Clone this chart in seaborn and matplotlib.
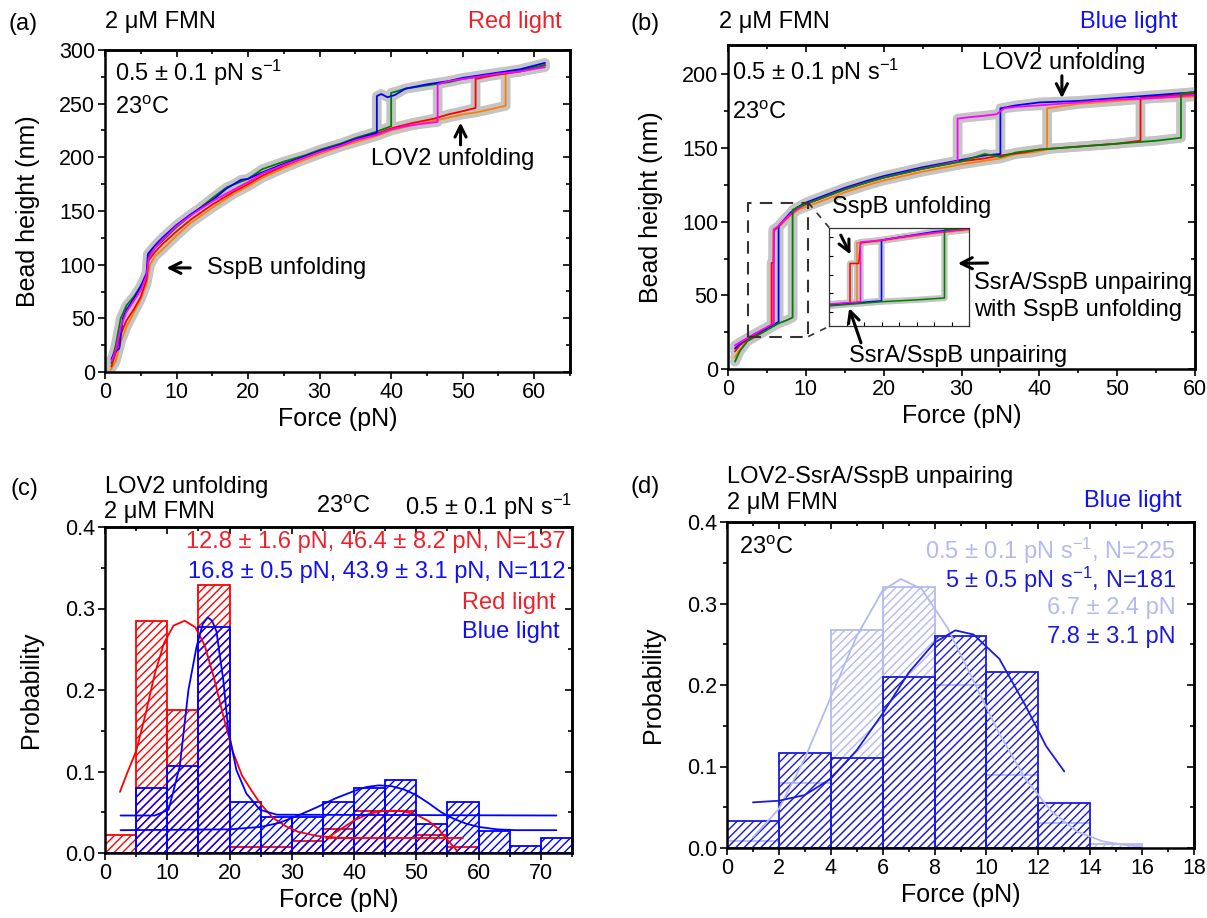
import matplotlib
matplotlib.use("Agg")
import matplotlib.pyplot as plt
from matplotlib.ticker import MultipleLocator, FormatStrFormatter
import seaborn as sns

# ---------------- data ----------------
# (a) force-extension traces, red light
a_orange_f = [0.8, 1.5, 2.2, 3.0, 4.0, 5.0, 5.8, 6.3, 7.0, 8.0, 10, 12, 15, 18, 20, 22, 25, 28, 30, 33,
              35, 38, 40, 43, 46, 48, 50, 52, 54, 56, 56, 58, 60, 61.5]
a_orange_h = [2, 10, 28, 42, 55, 68, 82, 100, 108, 114, 127, 139, 153, 166, 173, 181, 190, 198, 203, 210,
              214, 220, 225, 230, 234, 237, 240, 242, 245, 248, 278, 280, 283, 285]
a_red_f = [0.9, 1.5, 2.2, 3.0, 4.0, 5.0, 5.8, 6.1, 7.0, 8.0, 10, 12, 15, 18, 20, 22, 25, 28, 30, 33,
           35, 38, 40, 43, 46, 48, 50, 51.8, 51.8, 54, 56, 58, 60, 61.5]
a_red_h = [5, 18, 35, 48, 58, 70, 86, 104, 112, 119, 131, 142, 156, 168, 175, 183, 192, 200, 205, 211,
           216, 222, 227, 232, 236, 240, 243, 246, 273, 276, 278, 280, 283, 286]
a_green_f = [0.9, 1.5, 2.2, 3.0, 4.0, 5.0, 5.8, 6.1, 7.0, 8.0, 10, 12, 15, 17, 20, 22, 25, 28, 30, 33,
             35, 38, 40, 40, 42, 45, 48, 50, 55, 58, 61.5]
a_green_h = [8, 25, 50, 62, 70, 80, 90, 108, 116, 122, 135, 146, 162, 172, 180, 189, 196, 202, 207, 213,
             218, 224, 229, 260, 264, 267, 270, 273, 278, 281, 286]
a_blue_f = [0.9, 1.3, 2.0, 2.5, 3.0, 4.0, 5.0, 5.8, 6.0, 7.0, 8.0, 10, 12, 15, 17, 19, 20, 22, 25, 28,
            30, 33, 35, 38, 38, 38.6, 39.5, 40.5, 42, 45, 48, 50, 55, 58, 61.5]
a_blue_h = [12, 18, 22, 50, 58, 68, 80, 92, 110, 118, 125, 137, 147, 160, 171, 179, 180, 186, 194, 201,
            206, 212, 217, 223, 257, 259, 256, 258, 264, 268, 271, 274, 279, 282, 288]
a_magenta_f = [0.9, 1.5, 2.2, 3.0, 4.0, 5.0, 5.8, 6.1, 7.0, 8.0, 10, 12, 15, 18, 20, 22, 25, 28, 30, 33,
               35, 38, 40, 42, 44, 46.5, 46.5, 48, 50, 52, 55, 58, 61.5]
a_magenta_h = [10, 20, 42, 56, 66, 76, 90, 106, 116, 123, 136, 146, 159, 170, 177, 185, 193, 200, 205, 211,
               216, 221, 226, 229, 231, 233, 268, 271, 273, 275, 278, 280, 284]

# (b) force-extension traces, blue light
b_orange_f = [0.9, 1.5, 2.5, 3.5, 4.5, 5.8, 5.8, 6.5, 7, 8, 9, 10, 12, 15, 18, 20, 25, 30, 35, 37,
              39, 41, 41, 45, 50, 55, 60]
b_orange_h = [8, 13, 19, 22, 25, 30, 94, 96, 99, 104, 108, 110, 114, 120, 125, 128, 134, 139, 143, 146,
              147, 149, 177, 180, 182, 184, 185]
b_red_f = [0.9, 1.5, 2.5, 3.5, 4.5, 5.6, 5.6, 5.85, 5.9, 6.5, 7, 8, 9, 10, 12, 15, 18, 20, 25, 30,
           33, 35, 38, 40, 45, 50, 53, 53, 55, 58, 60]
b_red_h = [12, 16, 20, 23, 26, 30, 72, 72, 94, 97, 100, 105, 109, 112, 116, 122, 127, 130, 136, 141,
           143, 145, 147, 149, 151, 153, 155, 184, 185, 186, 187]
b_blue_f = [0.9, 1.5, 2.5, 3.5, 4.5, 5.5, 6.5, 6.5, 7, 8, 9, 10, 12, 15, 18, 20, 25, 30, 33, 35,
            35, 37, 40, 45, 50, 55, 60]
b_blue_h = [14, 17, 21, 24, 26, 29, 32, 97, 100, 106, 110, 113, 117, 123, 128, 131, 137, 142, 145, 146,
            177, 179, 181, 182, 184, 186, 188]
b_magenta_f = [0.9, 1.5, 2.5, 3.5, 4.5, 5.9, 5.9, 6.5, 7, 8, 9, 10, 12, 15, 18, 20, 25, 29.5, 29.5, 31,
               33, 34.5, 35.5, 37, 40, 45, 50, 55, 60]
b_magenta_h = [16, 18, 21, 24, 27, 31, 95, 97, 100, 105, 109, 112, 116, 122, 127, 130, 136, 141, 170, 171,
               172, 173, 177, 178, 179, 181, 183, 184, 186]
b_green_f = [0.9, 1.5, 2.5, 3.5, 4.5, 5.5, 6.5, 7.5, 8.3, 8.3, 9, 10, 12, 15, 18, 20, 25, 30, 33, 35,
             37, 40, 45, 50, 55, 58.2, 58.2, 60]
b_green_h = [5, 12, 19, 22, 25, 28, 31, 33, 35, 108, 110, 112, 116, 122, 127, 130, 136, 141, 146, 144,
             147, 149, 151, 153, 155, 157, 187, 188]

# (c) LOV2 unfolding force histograms (bin width 5 pN)
c_edges = [0, 5, 10, 15, 20, 25, 30, 35, 40, 45, 50, 55, 60, 65, 70, 75]
c_red_prob = [0.022, 0.285, 0.175, 0.329, 0.0073, 0.0073, 0.0146, 0.029, 0.051, 0.051, 0.022, 0.0073,
              0, 0, 0]
c_blue_prob = [0, 0.080, 0.107, 0.277, 0.0625, 0.0446, 0.0446, 0.0625, 0.080, 0.089, 0.036, 0.0625,
               0.027, 0.009, 0.018]
c_red_fit1_f = [2.4, 3.5, 5, 6.5, 8, 9.5, 11, 12.8, 14.5, 16, 17.5, 19, 20.5, 22, 23.5, 25, 27, 29, 31, 34, 37, 40]
c_red_fit1_p = [0.075, 0.097, 0.125, 0.17, 0.22, 0.258, 0.279, 0.285, 0.277, 0.255, 0.215, 0.168, 0.125,
                0.095, 0.077, 0.06, 0.043, 0.033, 0.026, 0.021, 0.019, 0.018]
c_red_fit2_f = [36, 38, 40, 42, 44, 46.4, 48, 50, 52, 53.5, 55, 56.5]
c_red_fit2_p = [0.02, 0.03, 0.04, 0.047, 0.051, 0.052, 0.051, 0.047, 0.039, 0.03, 0.016, 0.003]
c_red_base_f = [35.5, 57.5]
c_red_base_p = [0.018, 0.018]
c_blue_fit1_f = [2.5, 8, 10.2, 12, 13.4, 14.7, 15.7, 16.5, 17.2, 17.9, 19, 19.8, 21.1, 22.7, 24.9, 27.6, 72.5]
c_blue_fit1_p = [0.046, 0.046, 0.053, 0.106, 0.2, 0.253, 0.281, 0.289, 0.285, 0.272, 0.212, 0.151, 0.102,
                 0.073, 0.053, 0.047, 0.046]
c_blue_fit2_f = [2.5, 20, 25, 28, 31, 34, 37, 40, 42, 44, 46, 48, 50, 52, 54, 56, 58, 60, 63, 66, 72.5]
c_blue_fit2_p = [0.028, 0.029, 0.032, 0.037, 0.046, 0.056, 0.067, 0.076, 0.081, 0.083, 0.082, 0.078, 0.071,
                 0.061, 0.05, 0.042, 0.036, 0.032, 0.029, 0.028, 0.028]

# (d) SsrA/SspB unpairing force histograms (bin width 2 pN)
d_edges = [0, 2, 4, 6, 8, 10, 12, 14, 16]
d_slow_prob = [0.009, 0.08, 0.267, 0.32, 0.2, 0.089, 0.031, 0.0044]
d_fast_prob = [0.0331, 0.116, 0.1105, 0.21, 0.2597, 0.2155, 0.0552, 0]
d_slow_fit_f = [1.0, 2, 3, 4, 5, 6, 6.7, 7.5, 8.5, 9.5, 10.5, 11.5, 12.5, 13.5, 14.5, 15.5, 16]
d_slow_fit_p = [0.013, 0.048, 0.11, 0.185, 0.26, 0.316, 0.33, 0.318, 0.27, 0.205, 0.14, 0.085, 0.045,
                0.02, 0.008, 0.003, 0.002]
d_fast_fit_f = [1, 2, 3, 4, 5, 6, 7, 8, 8.8, 9.5, 10.5, 11.5, 12.3, 13]
d_fast_fit_p = [0.056, 0.058, 0.065, 0.085, 0.12, 0.165, 0.215, 0.252, 0.267, 0.262, 0.232, 0.175, 0.125, 0.094]

# ---------------- style ----------------
sns.set_theme(style="ticks")
plt.rcParams["font.family"] = ["Liberation Sans", "DejaVu Sans"]
plt.rcParams["mathtext.fontset"] = "custom"
plt.rcParams["mathtext.rm"] = "Liberation Sans"
plt.rcParams["mathtext.it"] = "Liberation Sans:italic"
plt.rcParams["hatch.linewidth"] = 1.0
for key in ("text.color", "axes.labelcolor", "xtick.color", "ytick.color", "axes.edgecolor"):
    plt.rcParams[key] = "black"

GRAY = "#C4C4C4"
C_ORANGE, C_RED, C_GREEN, C_BLUE, C_MAG = "#FF8000", "#FF0000", "#008000", "#0000FF", "#FF00FF"
TXT_RED, TXT_BLUE = "#F0202A", "#1010F0"
D_DARK, D_LIGHT = "#1A1AE0", "#B3BAF0"
FS = 17
W, H = 1207, 918

fig = plt.figure(figsize=(W / 100, H / 100), dpi=100)


def rect(l, t, r, b):
    return [l / W, 1 - b / H, (r - l) / W, (b - t) / H]


def ftext(x, y, s, **kw):
    kw.setdefault("fontsize", FS)
    kw.setdefault("va", "center")
    fig.text(x / W, 1 - y / H, s, **kw)


def finish(ax, xmaj, ymaj, yfmt=None):
    for a, loc in ((ax.xaxis, xmaj), (ax.yaxis, ymaj)):
        a.set_major_locator(MultipleLocator(loc))
        a.set_minor_locator(MultipleLocator(loc / 2))
    if yfmt:
        ax.yaxis.set_major_formatter(FormatStrFormatter(yfmt))
    ax.tick_params(which="both", direction="out", width=1.2, labelsize=15.5, pad=2, colors="black")
    ax.tick_params(which="major", length=5)
    ax.tick_params(which="minor", length=3)
    for s in ax.spines.values():
        s.set_visible(True)
        s.set_linewidth(1.8)
        s.set_color("black")
    sx = ax.secondary_xaxis("top")
    sy = ax.secondary_yaxis("right")
    for sec, axis, loc in ((sx, sx.xaxis, xmaj), (sy, sy.yaxis, ymaj)):
        axis.set_major_locator(MultipleLocator(loc))
        axis.set_minor_locator(MultipleLocator(loc / 2))
        sec.tick_params(which="both", direction="in", width=1.2, labeltop=False, labelright=False)
        sec.tick_params(which="major", length=5)
        sec.tick_params(which="minor", length=3)
        for s in sec.spines.values():
            s.set_linewidth(1.8)
    ax.set_xlabel("Force (pN)", fontsize=18, labelpad=3)


def traces(ax, data, band=7, lw=1.3):
    for f, h, c in data:
        sns.lineplot(x=f, y=h, ax=ax, color=GRAY, lw=band, sort=False, estimator=None, legend=False)
    for f, h, c in data:
        sns.lineplot(x=f, y=h, ax=ax, color=c, lw=lw, sort=False, estimator=None, legend=False)


arrow = dict(arrowstyle="->", color="black", lw=2.2, mutation_scale=20)
rate = r"0.5 ± 0.1 pN s$^{\mathregular{-1}}$"
temp = r"23$^{\mathregular{o}}$C"

# ---------------- (a) ----------------
ax_a = fig.add_axes(rect(105, 50, 570, 372))
traces(ax_a, [(a_orange_f, a_orange_h, C_ORANGE), (a_red_f, a_red_h, C_RED),
              (a_green_f, a_green_h, C_GREEN), (a_blue_f, a_blue_h, C_BLUE),
              (a_magenta_f, a_magenta_h, C_MAG)])
ax_a.set_xlim(0, 65)
ax_a.set_ylim(0, 300)
finish(ax_a, 10, 50)
ax_a.set_ylabel("Bead height (nm)", fontsize=18, labelpad=14)
ax_a.text(1.4, 279, rate, fontsize=FS, va="center")
ax_a.text(1.4, 246, temp, fontsize=FS, va="center")
ax_a.text(48.6, 198, "LOV2 unfolding", fontsize=FS, ha="center", va="center")
ax_a.annotate("", xy=(49.7, 235), xytext=(49.7, 209), arrowprops=arrow)
ax_a.text(14.3, 97, "SspB unfolding", fontsize=FS, va="center")
ax_a.annotate("", xy=(8.2, 97), xytext=(12.3, 97), arrowprops=arrow)

# ---------------- (b) ----------------
ax_b = fig.add_axes(rect(728, 45, 1195, 369))
b_data = [(b_orange_f, b_orange_h, C_ORANGE), (b_red_f, b_red_h, C_RED),
          (b_blue_f, b_blue_h, C_BLUE), (b_magenta_f, b_magenta_h, C_MAG),
          (b_green_f, b_green_h, C_GREEN)]
traces(ax_b, b_data)
ax_b.set_xlim(0, 60)
ax_b.set_ylim(0, 220)
finish(ax_b, 10, 50)
ax_b.set_ylabel("Bead height (nm)", fontsize=18, labelpad=14)
ax_b.text(0.5, 202, rate, fontsize=FS, va="center")
ax_b.text(0.5, 174, temp, fontsize=FS, va="center")
ax_b.text(43.1, 208, "LOV2 unfolding", fontsize=FS, ha="center", va="center")
ax_b.annotate("", xy=(42.9, 182), xytext=(42.9, 201), arrowprops=arrow)
ax_b.text(13.4, 110, "SspB unfolding", fontsize=FS, va="center")
ax_b.text(31.6, 58.5, "SsrA/SspB unpairing", fontsize=FS, va="center")
ax_b.text(31.6, 40, "with SspB unfolding", fontsize=FS, va="center")
ax_b.text(15.5, 8.5, "SsrA/SspB unpairing", fontsize=FS, va="center")
dash = dict(color="#333333", lw=1.5, ls=(0, (6, 4)))
ax_b.plot([2.6, 2.6, 10.3, 10.3, 2.6], [22, 113, 113, 22, 22], **dash)
ax_b.plot([10.3, 13.0], [113, 96], color="#333333", lw=1.2, ls=(0, (4, 4)))
ax_b.plot([10.3, 13.0], [22, 29], color="#333333", lw=1.2, ls=(0, (4, 4)))

ax_in = fig.add_axes(rect(829, 228, 969, 326))
traces(ax_in, b_data, band=4.5, lw=1.1)
ax_in.set_xlim(5, 9)
ax_in.set_ylim(5, 110)
ax_in.xaxis.set_major_locator(MultipleLocator(0.5))
ax_in.yaxis.set_major_locator(MultipleLocator(20))
ax_in.tick_params(direction="in", length=3, width=0.8, labelleft=False, labelbottom=False)
ax_in.set_xlabel("")
ax_in.set_ylabel("")
for s in ax_in.spines.values():
    s.set_visible(True)
    s.set_linewidth(0.9)
    s.set_color("#333333")
ax_in.annotate("", xy=(5.65, 79), xytext=(5.3, 105), arrowprops=arrow)
ax_in.annotate("", xy=(8.6, 72), xytext=(33.7, 72), textcoords=ax_b.transData,
               arrowprops=arrow, annotation_clip=False)
ax_in.annotate("", xy=(5.55, 27), xytext=(17.2, 16), textcoords=ax_b.transData,
               arrowprops=arrow, annotation_clip=False)

# ---------------- (c) ----------------
ax_c = fig.add_axes(rect(105, 527, 572, 853))
c_mid = [(lo + hi) / 2 for lo, hi in zip(c_edges[:-1], c_edges[1:])]
sns.histplot(x=c_mid, weights=c_red_prob, bins=c_edges, ax=ax_c, element="bars", fill=False,
             color=C_RED, hatch="////", linewidth=1.3)
sns.histplot(x=c_mid, weights=c_blue_prob, bins=c_edges, ax=ax_c, element="bars", fill=False,
             color=C_BLUE, hatch="////", linewidth=1.3)
for f, p, c in [(c_red_fit1_f, c_red_fit1_p, C_RED), (c_red_fit2_f, c_red_fit2_p, C_RED),
                (c_red_base_f, c_red_base_p, C_RED), (c_blue_fit1_f, c_blue_fit1_p, C_BLUE),
                (c_blue_fit2_f, c_blue_fit2_p, C_BLUE)]:
    sns.lineplot(x=f, y=p, ax=ax_c, color=c, lw=1.3, sort=False, estimator=None, legend=False)
ax_c.set_xlim(0, 75)
ax_c.set_ylim(0, 0.4)
finish(ax_c, 10, 0.1, "%.1f")
ax_c.set_ylabel("Probability", fontsize=18, labelpad=16)
ax_c.text(73.9, 0.381, "12.8 ± 1.6 pN, 46.4 ± 8.2 pN, N=137", color=TXT_RED, fontsize=FS, ha="right", va="center")
ax_c.text(73.9, 0.345, "16.8 ± 0.5 pN, 43.9 ± 3.1 pN, N=112", color=TXT_BLUE, fontsize=FS, ha="right", va="center")
ax_c.text(72.4, 0.307, "Red light", color=TXT_RED, fontsize=FS, ha="right", va="center")
ax_c.text(73.0, 0.271, "Blue light", color=TXT_BLUE, fontsize=FS, ha="right", va="center")

# ---------------- (d) ----------------
ax_d = fig.add_axes(rect(727, 522, 1194, 848))
d_mid = [(lo + hi) / 2 for lo, hi in zip(d_edges[:-1], d_edges[1:])]
sns.histplot(x=d_mid, weights=d_slow_prob, bins=d_edges, ax=ax_d, element="bars", fill=False,
             color=D_LIGHT, hatch="////", linewidth=1.3)
sns.histplot(x=d_mid, weights=d_fast_prob, bins=d_edges, ax=ax_d, element="bars", fill=False,
             color=D_DARK, hatch="////", linewidth=1.3)
sns.lineplot(x=d_slow_fit_f, y=d_slow_fit_p, ax=ax_d, color=D_LIGHT, lw=1.3, sort=False,
             estimator=None, legend=False)
sns.lineplot(x=d_fast_fit_f, y=d_fast_fit_p, ax=ax_d, color=D_DARK, lw=1.3, sort=False,
             estimator=None, legend=False)
ax_d.set_xlim(0, 18)
ax_d.set_ylim(0, 0.4)
finish(ax_d, 2, 0.1, "%.1f")
ax_d.set_ylabel("Probability", fontsize=18, labelpad=16)
ax_d.text(0.45, 0.368, temp, fontsize=FS, va="center")
ax_d.text(17.3, 0.364, r"0.5 ± 0.1 pN s$^{\mathregular{-1}}$, N=225", color=D_LIGHT, fontsize=FS,
          ha="right", va="center")
ax_d.text(17.3, 0.329, r"5 ± 0.5 pN s$^{\mathregular{-1}}$, N=181", color=D_DARK, fontsize=FS,
          ha="right", va="center")
ax_d.text(17.3, 0.294, "6.7 ± 2.4 pN", color=D_LIGHT, fontsize=FS, ha="right", va="center")
ax_d.text(17.3, 0.259, "7.8 ± 3.1 pN", color=D_DARK, fontsize=FS, ha="right", va="center")

# ---------------- titles outside axes ----------------
ftext(9, 24, "(a)")
ftext(105, 22, "2 μM FMN")
ftext(562, 22, "Red light", ha="right", color=TXT_RED)
ftext(631, 24, "(b)")
ftext(719, 22, "2 μM FMN")
ftext(1178, 22, "Blue light", ha="right", color=TXT_BLUE)
ftext(11, 489, "(c)")
ftext(105, 487, "LOV2 unfolding")
ftext(104, 512, "2 μM FMN")
ftext(316, 507, temp)
ftext(572, 507, rate, ha="right")
ftext(631, 487, "(d)")
ftext(727, 477, "LOV2-SsrA/SspB unpairing")
ftext(727, 503, "2 μM FMN")
ftext(1182, 501, "Blue light", ha="right", color=TXT_BLUE)

fig.savefig("out.png", dpi=100)
plt.close(fig)
